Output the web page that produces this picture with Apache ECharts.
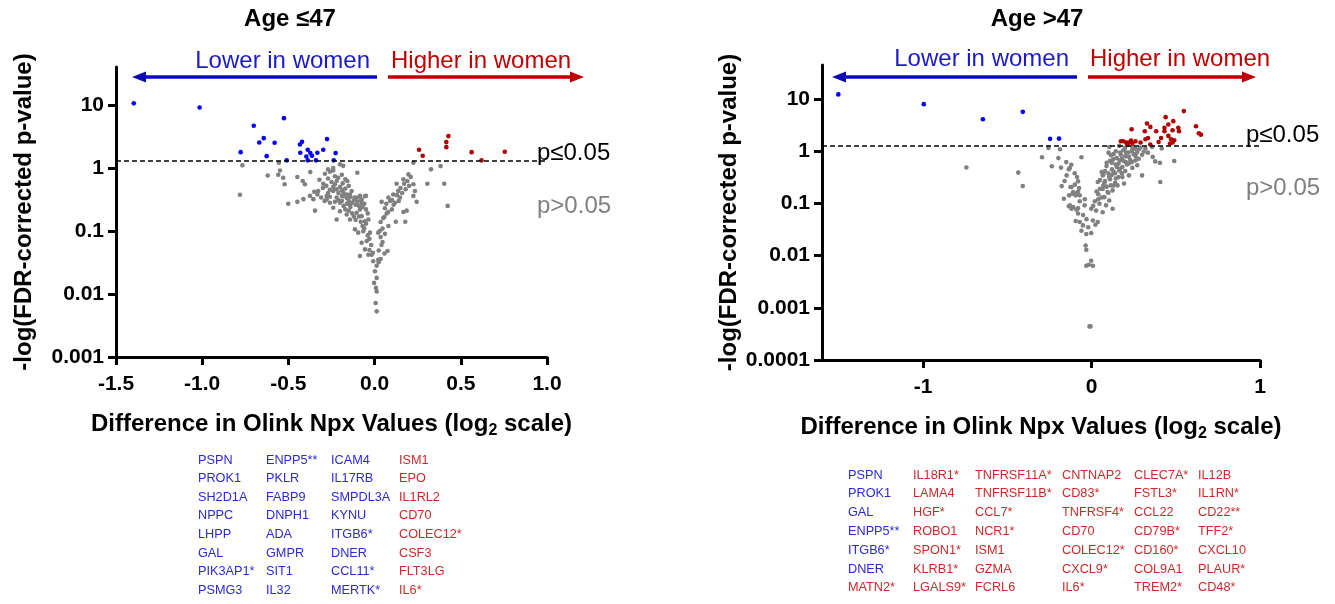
<!DOCTYPE html>
<html><head><meta charset="utf-8">
<script src="https://cdn.jsdelivr.net/npm/echarts@6/dist/echarts.min.js"></script>
<style>html,body{margin:0;padding:0;background:#fff}#c{width:1335px;height:604px}</style>
</head><body><div id="c"></div>
<script>
// ---------------- DATA ----------------
// [difference (log2), -log(FDR p)]
const leftLower = [[-1.397,10.6],[-1.015,9.13],[-0.526,6.17],[-0.701,4.68],[-0.643,2.97],[-0.669,2.54],[-0.580,2.51],[-0.777,1.78],[-0.626,1.54],[-0.510,1.32],[-0.433,2.36],[-0.421,2.61],[-0.431,1.74],[-0.388,1.95],[-0.396,1.52],[-0.373,1.72],[-0.363,1.56],[-0.388,1.32],[-0.340,1.32],[-0.332,1.74],[-0.298,1.95],[-0.276,2.87],[-0.226,1.72],[-0.237,1.32]];
const leftHigher = [[0.258,1.95],[0.279,1.56],[0.416,2.57],[0.428,3.20],[0.416,2.14],[0.563,1.78],[0.620,1.32],[0.755,1.81]];
const leftNs = [[-0.767,1.10],[-0.555,1.21],[-0.549,0.91],[-0.620,0.76],[-0.559,0.78],[-0.530,0.70],[-0.522,0.55],[-0.448,0.72],[-0.781,0.375],[-0.501,0.27],[-0.448,0.29],
[-0.201,1.14],[-0.182,1.08],[-0.373,0.86],[-0.417,0.62],[-0.404,0.55],[-0.288,0.81],[-0.259,0.87],[-0.240,0.91],[-0.23,0.74],[-0.211,0.70],[-0.185,0.57],[-0.158,0.62],[-0.100,0.84],[-0.298,0.56],[-0.327,0.43],[-0.375,0.36],[-0.413,0.32],[-0.355,0.32],[-0.278,0.36],[-0.240,0.43],[-0.220,0.34],[-0.162,0.38],[-0.133,0.43],[-0.114,0.34],[-0.085,0.36],[-0.050,0.36],[-0.075,0.28],[-0.259,0.28],[-0.201,0.28],[-0.143,0.26],[-0.346,0.21],[-0.085,0.22],
[0.225,1.21],[0.196,0.79],[0.167,0.66],[0.171,0.56],[0.128,0.56],[0.137,0.43],[0.108,0.38],[0.080,0.34],[0.147,0.34],[0.041,0.29],[0.118,0.28],[0.225,0.55],[0.234,0.43],[0.225,0.36],[0.244,0.29],[0.186,0.21],[0.070,0.19],[0.327,0.95],[0.306,0.56],[0.383,1.07],[0.404,0.56],[0.424,0.25],
[-0.332,0.38],[-0.278,0.316],[-0.182,0.357],[-0.143,0.38],[-0.104,0.336],[-0.075,0.316],[-0.056,0.357],[-0.240,0.233],[-0.201,0.206],[-0.162,0.183],[-0.143,0.152],[-0.104,0.194],[-0.075,0.172],[-0.056,0.143],[-0.036,0.152],[-0.220,0.152],[-0.114,0.106],[-0.095,0.094],[-0.066,0.099],[-0.027,0.094],[-0.046,0.069],[-0.075,0.065],[-0.056,0.051],[-0.085,0.040],[-0.036,0.042],[-0.017,0.042],[-0.008,0.033],[0.012,0.028],[0.002,0.023],[0.012,0.018],[-0.003,0.015],[0.008,0.0125],[0.012,0.011],[0.006,0.0072],[0.012,0.0053],[0.021,0.094],[0.021,0.035],
[0.035,0.139],[0.046,0.109],[0.057,0.167],[0.079,0.20],[0.035,0.080],[0.046,0.067],[0.024,0.049],[0.075,0.048],[0.057,0.044],[0.035,0.036],[0.024,0.032],[0.068,0.27],[0.101,0.31],[0.167,0.2],[0.178,0.14],[0.123,0.14],
[-0.30,0.48],[-0.28,0.52],[-0.26,0.45],[-0.25,0.60],[-0.24,0.50],[-0.23,0.55],[-0.22,0.46],[-0.21,0.40],[-0.20,0.50],[-0.19,0.44],[-0.18,0.40],[-0.17,0.47],[-0.16,0.33],[-0.15,0.30],[-0.14,0.35],[-0.13,0.28],[-0.12,0.31],[-0.11,0.26],[-0.10,0.29],[-0.09,0.25],[-0.08,0.31],[-0.07,0.24],[-0.06,0.27],[-0.05,0.22],[-0.04,0.19],[-0.19,0.30],[-0.18,0.25],[-0.17,0.22],[-0.15,0.21],[-0.13,0.19],[-0.12,0.17],[-0.11,0.15],[-0.09,0.17],[-0.08,0.14],[-0.07,0.12],[-0.06,0.11],[-0.05,0.13],[-0.04,0.085],[-0.03,0.075],[-0.02,0.06],[-0.03,0.05],[-0.01,0.045],[-0.27,0.40],[-0.31,0.34],[-0.29,0.30],[-0.26,0.35],[-0.23,0.29],[-0.21,0.31],[-0.19,0.36],[-0.16,0.27],[-0.14,0.24],[-0.35,0.42],[-0.32,0.65],[-0.27,0.68],[-0.22,0.62],[-0.19,0.78],[-0.17,0.66],[-0.15,0.52],[-0.24,1.0],[-0.27,0.95],
[0.06,0.23],[0.09,0.30],[0.11,0.26],[0.13,0.37],[0.15,0.48],[0.16,0.40],[0.18,0.46],[0.19,0.62],[0.20,0.52],[0.21,0.72],[0.14,0.30],[0.10,0.22],[0.05,0.16],[0.08,0.12],[0.06,0.09],[0.04,0.06],[0.03,0.10]];

const rightLower = [[-1.503,12.3],[-0.996,8.0],[-0.645,4.1],[-0.408,5.7],[-0.246,1.73],[-0.193,1.75]];
const rightHigher = [[0.548,5.88],[0.440,4.51],[0.485,3.78],[0.329,3.41],[0.349,2.93],[0.456,3.26],[0.433,2.81],[0.515,2.81],[0.238,2.65],[0.384,2.42],[0.433,2.42],[0.481,2.53],[0.519,2.42],[0.316,2.42],[0.456,1.97],[0.413,1.80],[0.472,1.70],[0.491,1.63],[0.335,1.80],[0.320,1.70],[0.466,1.41],[0.481,1.47],[0.261,1.56],[0.234,1.61],[0.189,1.56],[0.206,1.47],[0.222,1.47],[0.242,1.41],[0.212,1.35],[0.291,1.47],[0.349,1.35],[0.398,1.51],[0.174,1.56],[0.620,3.02],[0.637,2.22],[0.649,2.08]];
const rightNs = [[-0.743,0.49],
[-0.256,1.16],[-0.187,1.09],[-0.294,0.77],[-0.197,0.74],[-0.060,0.77],[-0.435,0.39],[-0.408,0.215],[-0.236,0.515],[-0.181,0.486],[-0.129,0.477],[-0.135,0.45],[-0.148,0.345],[-0.086,0.32],[-0.080,0.265],[-0.074,0.197],[-0.119,0.206],[-0.099,0.229],[-0.177,0.215],[-0.133,0.143],[-0.113,0.153],[-0.094,0.143],[-0.164,0.123],[-0.129,0.092],[-0.109,0.085],[-0.080,0.081],[-0.041,0.092],[-0.002,0.079],
[0.105,1.21],[0.164,1.27],[0.199,1.16],[0.242,1.21],[0.281,1.09],[0.320,1.13],[0.359,1.21],[0.417,1.13],[0.335,0.94],[0.300,0.86],[0.261,0.81],[0.206,0.94],[0.174,0.86],[0.144,1.0],[0.115,0.84],[0.129,0.70],[0.168,0.67],[0.203,0.62],[0.144,0.555],[0.183,0.50],[0.089,0.52],[0.121,0.45],[0.164,0.43],[0.242,0.48],[0.271,0.54],[0.300,0.345],[0.378,0.64],[0.363,0.78],[0.491,0.65],[0.408,0.257],[0.066,0.345],[0.105,0.32],[0.144,0.30],[0.183,0.32],[0.222,0.345],[0.076,0.25],[0.115,0.222],[0.154,0.222],[0.193,0.24],[0.037,0.257],[0.066,0.19],[0.095,0.165],[0.125,0.178],[0.076,0.132],[0.105,0.114],[0.047,0.099],[0.086,0.092],[0.125,0.079],[0.027,0.073],[0.066,0.068],[0.101,0.94],[0.222,0.78],[0.261,0.67],[0.406,0.60],
[-0.125,0.206],[-0.109,0.165],[-0.089,0.154],[-0.070,0.143],[-0.135,0.088],[-0.119,0.079],[-0.089,0.076],[-0.080,0.064],[-0.094,0.046],[-0.070,0.044],[-0.051,0.038],[-0.060,0.030],[-0.031,0.026],[-0.002,0.027],[0.023,0.039],[0.037,0.044],[0.008,0.047],[-0.035,0.0156],[-0.031,0.0129],[-0.002,0.0080],[-0.031,0.0064],[0.008,0.0064],[-0.016,0.0067],[-0.012,0.00044],[-0.006,0.00044],
[0.02,0.11],[0.04,0.15],[0.05,0.19],[0.06,0.13],[0.07,0.22],[0.08,0.27],[0.09,0.21],[0.10,0.38],[0.11,0.29],[0.12,0.35],[0.13,0.41],[0.14,0.38],[0.15,0.50],[0.16,0.58],[0.17,0.46],[0.18,0.72],[0.19,0.65],[0.20,0.80],[0.21,0.56],[0.22,0.95],[0.23,0.68],[0.24,1.02],[0.25,0.88],[0.26,1.12],[0.27,0.95],[0.28,0.72],[0.29,1.18],[0.31,0.98],[0.12,0.60],[0.13,0.88],[0.09,0.60],[0.08,0.42],[0.07,0.36],[0.05,0.28],[0.03,0.17],[0.14,0.25],[0.16,0.32],[0.18,0.38],[0.20,0.42],[0.22,0.58],[0.24,0.62],[0.17,0.95],[0.19,1.05],[0.15,0.74],[0.11,0.66],[0.06,0.40],[0.04,0.12],[0.01,0.09],[0.10,0.16],[0.13,0.22],
[-0.15,0.62],[-0.12,0.55],[-0.10,0.38],[-0.16,0.27],[-0.07,0.11],[-0.05,0.06],[-0.03,0.05],[-0.08,0.17],[-0.04,0.12],[-0.02,0.035]];

const pThreshold = 1.301; // -log10(0.05)
const leftXTicks = [-1.5, -1.0, -0.5, 0.0, 0.5, 1.0];
const leftYTicks = [0.001, 0.01, 0.1, 1, 10];
const leftYLabels = ['0.001', '0.01', '0.1', '1', '10'];
const rightXTicks = [-1, 0, 1];
const rightYTicks = [0.0001, 0.001, 0.01, 0.1, 1, 10];
const rightYLabels = ['0.0001', '0.001', '0.01', '0.1', '1', '10'];

const leftGenesLower = [
  ['PSPN','PROK1','SH2D1A','NPPC','LHPP','GAL','PIK3AP1*','PSMG3'],
  ['ENPP5**','PKLR','FABP9','DNPH1','ADA','GMPR','SIT1','IL32'],
  ['ICAM4','IL17RB','SMPDL3A','KYNU','ITGB6*','DNER','CCL11*','MERTK*']
];
const leftGenesHigher = [['ISM1','EPO','IL1RL2','CD70','COLEC12*','CSF3','FLT3LG','IL6*']];
const rightGenesLower = ['PSPN','PROK1','GAL','ENPP5**','ITGB6*','DNER'];
const rightGenesHigher = [
  ['MATN2*'],
  ['IL18R1*','LAMA4','HGF*','ROBO1','SPON1*','KLRB1*','LGALS9*'],
  ['TNFRSF11A*','TNFRSF11B*','CCL7*','NCR1*','ISM1','GZMA','FCRL6'],
  ['CNTNAP2','CD83*','TNFRSF4*','CD70','COLEC12*','CXCL9*','IL6*'],
  ['CLEC7A*','FSTL3*','CCL22','CD79B*','CD160*','COL9A1','TREM2*'],
  ['IL12B','IL1RN*','CD22**','TFF2*','CXCL10','PLAUR*','CD48*']
];

// ---------------- STYLE ----------------
const FONT = "'Liberation Sans', Arial, sans-serif";
const GREY = '#808080', BLUE = '#0000ff', RED = '#b00000';
const TXT_BLUE = '#2a2ad6', TXT_RED = '#cc2a2a';

function logLabel(ticks, labels) {
  return function (v) {
    for (let i = 0; i < ticks.length; i++) {
      if (Math.abs(Math.log10(ticks[i]) - Math.log10(v)) < 1e-6) return labels[i];
    }
    return '';
  };
}
const axisLineStyle = { show: true, onZero: false, lineStyle: { color: '#000', width: 3 } };
const tickStyle = (vals) => ({ show: true, length: 8, inside: false, lineStyle: { color: '#000', width: 3 }, customValues: vals });
const labelBase = { color: '#000', fontFamily: FONT, fontWeight: 'bold', fontSize: 21 };
const nameStyle = { color: '#000', fontFamily: FONT, fontWeight: 'bold', fontSize: 24,
  rich: { sub: { fontFamily: FONT, fontWeight: 'bold', fontSize: 16, verticalAlign: 'bottom', padding: [14, 0, 0, 0] } } };
const xName = 'Difference in Olink Npx Values (log{sub|2} scale)';
const yName = '-log(FDR-corrected p-value)';

function scatter(data, color, xi, z) {
  return { type: 'scatter', data: data, xAxisIndex: xi, yAxisIndex: xi, symbol: 'circle', symbolSize: 4.6,
    itemStyle: { color: color, opacity: 1 }, z: z, silent: true, animation: false };
}
function threshold(xi) {
  return { type: 'line', data: [], xAxisIndex: xi, yAxisIndex: xi, silent: true,
    markLine: { silent: true, symbol: ['none', 'none'], label: { show: false }, animation: false,
      lineStyle: { color: '#000', type: [5, 3], width: 1.5 }, data: [{ yAxis: pThreshold }] } };
}

// ---------------- ANNOTATIONS ----------------
const g = [];
function txt(x, y, s, fill, size, align, weight) {
  g.push({ type: 'text', x: x, y: y, silent: true, style: { text: s, fill: fill, font: (weight || 'normal') + ' ' + size + 'px ' + FONT,
    textAlign: align, align: align, textVerticalAlign: 'middle', verticalAlign: 'middle' } });
}
function arrow(x1, x2, y, color) { // head at x2
  const d = x2 > x1 ? 1 : -1;
  g.push({ type: 'line', silent: true, shape: { x1: x1, y1: y, x2: x2 - d * 10, y2: y }, style: { stroke: color, lineWidth: 3.5 } });
  g.push({ type: 'polygon', silent: true, shape: { points: [[x2, y], [x2 - d * 14, y - 5.5], [x2 - d * 14, y + 5.5]] }, style: { fill: color } });
}
txt(290, 19, 'Age \u226447', '#000', 24, 'center', 'bold');
txt(1037, 19, 'Age >47', '#000', 24, 'center', 'bold');
txt(370, 61, 'Lower in women', '#1a1acc', 24, 'right');
txt(391, 61, 'Higher in women', '#c00000', 24, 'left');
arrow(377, 132, 77, '#0a0ab8');
arrow(388, 584, 77, '#c00000');
txt(1069, 59, 'Lower in women', '#1a1acc', 24, 'right');
txt(1090, 59, 'Higher in women', '#c00000', 24, 'left');
arrow(1077, 832, 77, '#0a0ab8');
arrow(1088, 1256, 77, '#c00000');
txt(537, 153, 'p\u22640.05', '#000', 24, 'left');
txt(537, 206, 'p>0.05', '#808080', 24, 'left');
txt(1246, 135, 'p\u22640.05', '#000', 24, 'left');
txt(1246, 188, 'p>0.05', '#808080', 24, 'left');

// gene lists
const GF = 12.7;
const lx = [198, 266, 331, 399], ly0 = 460, ldy = 18.6;
leftGenesLower.forEach((col, c) => col.forEach((s, r) => txt(lx[c], ly0 + r * ldy, s, TXT_BLUE, GF, 'left')));
leftGenesHigher.forEach((col, c) => col.forEach((s, r) => txt(lx[3 + c], ly0 + r * ldy, s, TXT_RED, GF, 'left')));
const rx = [848, 913, 975, 1062, 1134, 1198], ry0 = 475, rdy = 18.8;
rightGenesLower.forEach((s, r) => txt(rx[0], ry0 + r * rdy, s, TXT_BLUE, GF, 'left'));
rightGenesHigher.forEach((col, c) => col.forEach((s, r) => {
  const row = c === 0 ? rightGenesLower.length + r : r;
  txt(rx[c], ry0 + row * rdy, s, TXT_RED, GF, 'left');
}));

// ---------------- OPTION ----------------
const option = {
  animation: false,
  backgroundColor: '#fff',
  grid: [
    { left: 116, top: 67, width: 431, height: 290, containLabel: false, outerBoundsMode: 'none' },
    { left: 822, top: 65, width: 438, height: 295, containLabel: false, outerBoundsMode: 'none' }
  ],
  xAxis: [
    { gridIndex: 0, type: 'value', min: -1.5, max: 1.0, interval: 0.5, splitLine: { show: false },
      axisLine: axisLineStyle, axisTick: tickStyle(leftXTicks),
      axisLabel: Object.assign({}, labelBase, { margin: 17, customValues: leftXTicks, formatter: v => v.toFixed(1) }),
      name: xName, nameLocation: 'middle', nameGap: 52, nameTextStyle: nameStyle },
    { gridIndex: 1, type: 'value', min: -1.6, max: 1, splitLine: { show: false },
      axisLine: axisLineStyle, axisTick: tickStyle(rightXTicks),
      axisLabel: Object.assign({}, labelBase, { margin: 17, customValues: rightXTicks, formatter: v => String(v) }),
      name: xName, nameLocation: 'middle', nameGap: 52, nameTextStyle: nameStyle }
  ],
  yAxis: [
    { gridIndex: 0, type: 'log', logBase: 10, min: 0.001, max: 40, splitLine: { show: false }, minorTick: { show: false },
      axisLine: axisLineStyle, axisTick: tickStyle(leftYTicks),
      axisLabel: Object.assign({}, labelBase, { margin: 12, customValues: leftYTicks, formatter: logLabel(leftYTicks, leftYLabels) }),
      name: yName, nameLocation: 'middle', nameRotate: 90, nameGap: 80, nameTextStyle: nameStyle },
    { gridIndex: 1, type: 'log', logBase: 10, min: 0.0001, max: 45, splitLine: { show: false }, minorTick: { show: false },
      axisLine: axisLineStyle, axisTick: tickStyle(rightYTicks),
      axisLabel: Object.assign({}, labelBase, { margin: 12, customValues: rightYTicks, formatter: logLabel(rightYTicks, rightYLabels) }),
      name: yName, nameLocation: 'middle', nameRotate: 90, nameGap: 80, nameTextStyle: nameStyle }
  ],
  series: [
    threshold(0), threshold(1),
    scatter(leftNs, GREY, 0, 2), scatter(leftLower, BLUE, 0, 3), scatter(leftHigher, RED, 0, 3),
    scatter(rightNs, GREY, 1, 2), scatter(rightLower, BLUE, 1, 3), scatter(rightHigher, RED, 1, 3)
  ],
  graphic: { elements: g }
};
const chart = echarts.init(document.getElementById('c'), null, { renderer: 'canvas' });
chart.setOption(option);
</script></body></html>
